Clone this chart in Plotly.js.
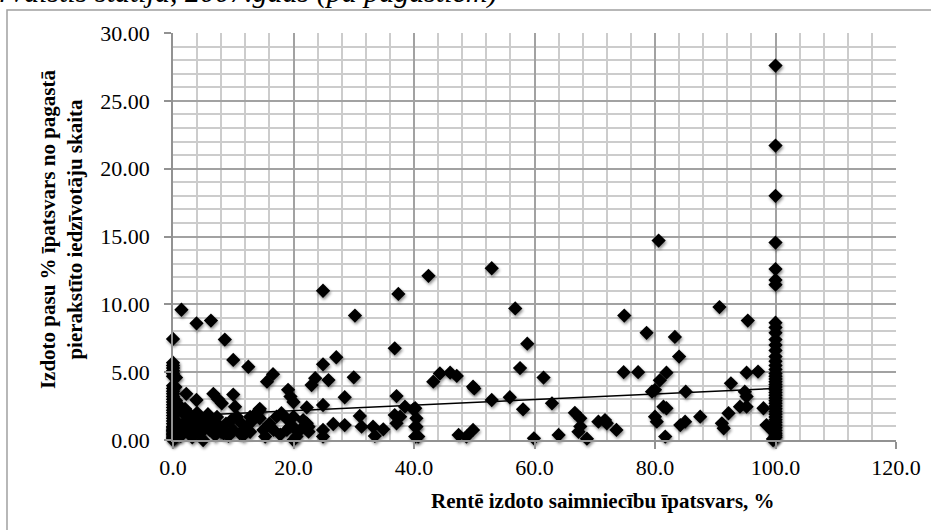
<!DOCTYPE html>
<html>
<head>
<meta charset="utf-8">
<script src="https://cdn.plot.ly/plotly-3.0.1.min.js"></script>
<style>
html,body{margin:0;padding:0;background:#fff;}
#chart{width:931px;height:530px;}
#chart .scatterlayer .points path{filter:drop-shadow(1.5px 2px 1.5px rgba(0,0,0,0.45));}
</style>
</head>
<body>
<div id="chart"></div>
<script>
// Share of farms rented out (%), x
const xVals = [
  // column at 0
  0,0,0,0,0,0,0,0,0,0,0,0,0,0,0,0,0,0,0,0,0,0,0,0,0,0,0,0,0,0,0,0,0,
  0.4,0.5,0.3,0.6,0.4,0.5,0.3,0.6,
  // dense low cluster 0-23
  1.7,2.3,2.8,3.4,4.5,5.0,6.1,7.0,7.8,8.4,9.7,10.0,10.6,11.1,11.7,12.2,13.3,13.9,15.0,15.3,16.7,17.2,18.0,18.9,19.1,20.0,21.1,21.6,22.5,
  0.9,1.1,1.3,1.6,2.0,2.5,3.0,3.2,3.7,4.0,4.3,4.8,5.4,5.8,6.5,7.3,8.0,8.8,9.2,11.4,12.8,14.4,16.0,17.8,19.5,14.4,13.9,12.8,
  // scattered
  1.4,3.9,6.3,8.6,10.0,12.5,
  2.2,3.9,6.7,7.5,8.1,10.0,10.3,
  15.6,16.6,14.3,19.1,19.5,20.0,22.2,20.0,22.2,22.5,20.2,20.5,
  24.9,23.6,23.0,24.9,25.8,27.1,24.9,28.5,30.2,30.0,
  26.6,28.5,24.9,24.9,31.0,31.3,33.2,33.5,34.9,
  36.8,37.4,37.1,38.5,39.9,40.2,40.4,37.1,37.7,36.8,40.4,40.2,40.2,40.7,
  42.4,43.2,44.3,46.0,47.1,47.4,48.7,49.8,49.8,50.0,52.9,52.9,
  56.8,58.8,57.6,61.5,55.9,58.1,59.9,62.9,64.0,66.7,67.6,67.6,67.3,68.7,70.6,71.7,72.0,73.6,
  74.9,74.8,77.2,78.6,80.6,80.0,80.8,81.9,79.5,83.3,84.0,85.1,80.0,80.3,81.4,81.9,81.7,84.2,85.0,87.5,
  90.7,92.6,91.1,91.4,92.2,95.4,95.2,97.1,94.9,95.2,94.1,95.2,98.0,98.5,
  // column at 100
  100,100,100,100,100,100,100,100,100,100,100,100,100,100,100,100,100,100,100,100,100,100,
  100,100,100,100,100,100,100,100,100,100,100,100,100,100,100,100,100,100,100,100,
  99.6,99.6,99.7,99.6
];
// Issued passports as % of registered residents, y
const yVals = [
  7.45,5.7,5.5,5.3,5.1,4.9,4.7,4.0,3.8,3.6,3.4,3.2,3.0,2.8,2.6,2.4,2.2,2.0,1.8,1.6,1.4,1.2,1.0,0.9,0.8,0.7,0.6,0.5,0.4,0.3,0.2,0.1,0.0,
  3.9,2.9,1.5,0.6,0.2,4.6,2.3,1.1,
  1.97,1.47,0.49,0.74,0.49,0.0,0.74,0.37,0.98,0.49,1.47,0.74,1.72,0.49,0.37,0.98,1.47,1.97,0.74,0.25,0.74,1.72,1.97,0.74,1.47,0.0,0.74,1.47,0.98,
  2.6,1.1,0.3,0.8,2.3,1.0,1.8,0.2,1.3,2.0,1.0,1.5,0.9,1.9,1.3,1.7,0.6,1.2,0.3,1.2,0.6,1.6,1.2,0.4,1.0,2.3,2.0,1.7,
  9.6,8.6,8.8,7.4,5.9,5.4,
  3.4,2.95,3.4,3.0,2.7,3.35,2.45,
  4.3,4.85,2.2,3.7,3.2,2.8,2.4,1.72,1.23,0.61,0.86,0.25,
  11.0,4.55,4.05,5.58,4.42,6.1,2.58,3.15,9.17,4.62,
  1.18,1.1,0.74,0.25,1.77,0.98,0.98,0.3,0.79,
  6.76,10.77,3.24,2.46,2.26,2.34,1.6,1.23,1.72,1.84,0.98,0.25,0.98,0.25,
  12.1,4.3,4.9,4.96,4.72,0.37,0.25,0.74,3.93,3.8,12.66,2.95,
  9.7,7.1,5.3,4.6,3.15,2.26,0.12,2.7,0.37,2.0,1.6,1.0,0.6,0.1,1.35,1.47,1.23,0.74,
  9.17,5.0,5.0,7.9,14.7,3.7,4.4,4.96,3.56,7.6,6.15,3.56,1.72,1.35,2.46,2.34,0.25,1.1,1.35,1.72,
  9.8,4.18,1.23,0.86,1.97,8.8,4.96,5.04,3.56,3.2,2.46,2.46,2.34,1.1,
  27.6,21.7,18.0,14.55,12.6,11.8,11.45,8.65,8.3,7.9,7.4,7.0,6.6,6.15,5.8,5.5,5.2,4.9,4.7,4.5,4.3,4.1,
  3.9,3.7,3.5,3.3,3.1,2.9,2.7,2.5,2.3,2.1,1.9,1.7,1.5,1.3,1.1,0.9,0.7,0.5,0.35,0.2,
  0.1,0.0,1.0,0.6
];
// Linear trend line endpoints
const trendX = [0, 100];
const trendY = [1.75, 3.80];

const titleText = "vai ārvalstīs statīja, 2007.gads (pa pagastiem)";
const xTitle = "Rentē izdoto saimniecību īpatsvars, %";
const yTitle = "Izdoto pasu % īpatsvars no pagastā<br>pierakstīto iedzīvotāju skaita";

const serif = '"Liberation Serif", "Times New Roman", Times, serif';

const traces = [
  {
    x: xVals, y: yVals, type: 'scatter', mode: 'markers',
    cliponaxis: false,
    marker: {symbol: 'diamond', size: 11, color: '#000000', line: {width: 0}},
    hoverinfo: 'x+y', showlegend: false
  },
  {
    x: trendX, y: trendY, type: 'scatter', mode: 'lines',
    line: {color: '#000000', width: 1.5},
    hoverinfo: 'skip', showlegend: false
  }
];

const layout = {
  width: 931, height: 530,
  margin: {l: 173, r: 35, t: 33, b: 90},
  paper_bgcolor: '#ffffff', plot_bgcolor: '#ffffff',
  font: {family: serif, color: '#000000', size: 21},
  showlegend: false,
  xaxis: {
    range: [0, 120], tick0: 0, dtick: 20, tickformat: '.1f',
    showgrid: true, gridcolor: '#a2a2a2', gridwidth: 2,
    minor: {tick0: 0, dtick: 4, showgrid: true, gridcolor: '#cccccc', gridwidth: 2},
    showline: true, linecolor: '#929292', linewidth: 2,
    ticks: 'outside', ticklen: 7, tickcolor: '#929292', tickwidth: 2,
    tickfont: {family: serif, size: 22, color: '#000'},
    zeroline: false, fixedrange: true
  },
  yaxis: {
    range: [0, 30], tick0: 0, dtick: 5, tickformat: '.2f',
    ticksuffix: '\u00a0\u2009',
    showgrid: true, gridcolor: '#a2a2a2', gridwidth: 2,
    minor: {tick0: 0, dtick: 1, showgrid: true, gridcolor: '#cccccc', gridwidth: 2},
    showline: true, linecolor: '#929292', linewidth: 2,
    ticks: 'outside', ticklen: 7, tickcolor: '#929292', tickwidth: 2,
    tickfont: {family: serif, size: 22, color: '#000'},
    zeroline: false, fixedrange: true
  },
  annotations: [
    {text: '<b>' + xTitle + '</b>', xref: 'paper', yref: 'paper', x: 0.595, y: -0.150,
     xanchor: 'center', yanchor: 'middle', showarrow: false,
     font: {family: serif, size: 21, color: '#000'}},
    {text: '<b>' + yTitle + '</b>', xref: 'paper', yref: 'paper', x: -0.155, y: 0.518,
     xanchor: 'center', yanchor: 'middle', showarrow: false, textangle: -90,
     font: {family: serif, size: 21, color: '#000'}},
    {text: '<i>' + titleText + '</i>', xref: 'paper', yref: 'paper', x: 0.452, y: 1.055,
     xanchor: 'right', yanchor: 'bottom', showarrow: false,
     font: {family: serif, size: 30, color: '#000'}}
  ],
  shapes: [
    {type: 'rect', xref: 'paper', yref: 'paper', x0: -0.2296, x1: 1.2, y0: -0.5, y1: 1.0565,
     line: {color: '#a0a0a0', width: 1.5}, fillcolor: 'rgba(0,0,0,0)', layer: 'below'}
  ]
};

Plotly.newPlot('chart', traces, layout, {staticPlot: true, displayModeBar: false});
</script>
</body>
</html>
